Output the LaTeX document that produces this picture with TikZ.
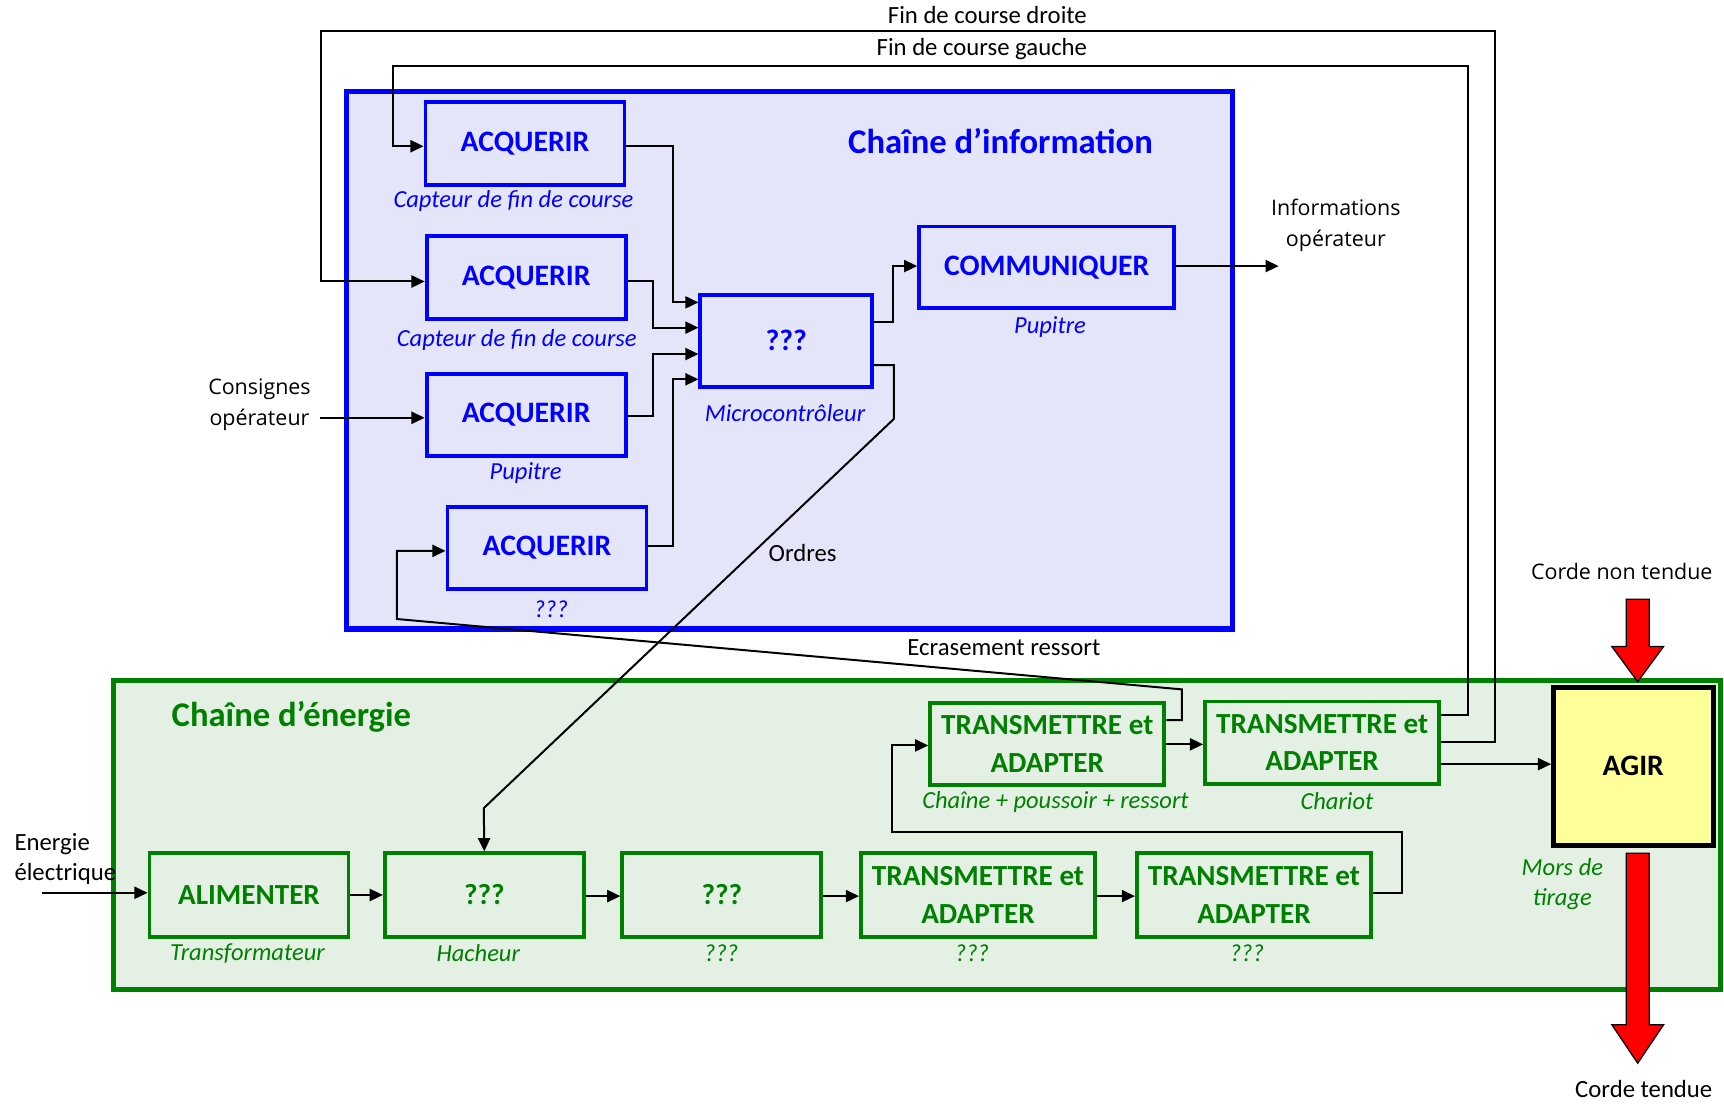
\documentclass[tikz,border=0pt]{standalone}
\usepackage{fontspec}
\setmainfont{Carlito}
\newfontfamily\osans{Open Sans}
\usetikzlibrary{arrows.meta,calc}
\definecolor{bl}{RGB}{0,0,255}
\definecolor{gr}{RGB}{0,128,0}
\definecolor{lav}{RGB}{229,229,250}
\definecolor{lgr}{RGB}{229,240,229}
\definecolor{yel}{RGB}{255,255,153}
\tikzset{
  bbox/.style={draw=bl,line width=3.5pt,fill=lav,text=bl,font=\fontsize{27}{30}\selectfont\bfseries,align=center,inner sep=0pt},
  gbox/.style={draw=gr,line width=3.5pt,fill=lgr,text=gr,font=\fontsize{26.5}{34}\selectfont\bfseries,align=center,inner sep=0pt},
  blab/.style={text=bl,font=\fontsize{22.3}{24}\selectfont\itshape,inner sep=0pt},
  glab/.style={text=gr,font=\fontsize{22.3}{28}\selectfont\itshape,inner sep=0pt,align=center},
  plain/.style={text=black,font=\fontsize{22.5}{24}\selectfont,inner sep=0pt},
  oplain/.style={text=black,font=\osans\fontsize{19.5}{28}\selectfont,inner sep=0pt,align=center},
  conn/.style={draw=black,line width=1.8pt,line join=miter},
  arr/.style={conn,-{Triangle[length=12pt,width=11pt]}},
  redarr/.style={fill=red,draw=black,line width=1.2pt,line join=miter}
}
\begin{document}
\begin{tikzpicture}[x=1pt,y=-1pt]
\useasboundingbox (0,0) rectangle (1568,1004);
% frames
\draw[draw=bl,line width=5pt,fill=lav] (315,83) rectangle (1121,572);
\node[text=bl,font=\fontsize{31.5}{34}\selectfont\bfseries,inner sep=0pt] (tinfo) at (910,128) {Chaîne d’information};
\draw[draw=gr,line width=5pt,fill=lgr] (103,619) rectangle (1565,900);
\node[text=gr,font=\fontsize{31.5}{34}\selectfont\bfseries,inner sep=0pt] (tener) at (265,652) {Chaîne d’énergie};

% information chain boxes
\node[bbox,minimum width=181,minimum height=75] (a1) at (477.5,130.5) {ACQUERIR};
\node[blab] (la1) at (467,183) {Capteur de fin de course};
\node[bbox,minimum width=181,minimum height=75] (a2) at (478.5,252.5) {ACQUERIR};
\node[blab] (la2) at (470,309) {Capteur de fin de course};
\node[bbox,minimum width=181,minimum height=75] (a3) at (478.5,377.5) {ACQUERIR};
\node[blab] (la3) at (478,430) {Pupitre};
\node[bbox,minimum width=181,minimum height=75] (a4) at (497.5,498.5) {ACQUERIR};
\node[blab] (la4) at (501,554) {???};
\node[bbox,minimum width=156,minimum height=84] (mc) at (715,310) {???};
\node[blab] (lmc) at (714,376) {Microcontrôleur};
\node[bbox,minimum width=232,minimum height=74] (com) at (952,243) {COMMUNIQUER};
\node[blab] (lcom) at (955,297) {Pupitre};

% energy chain boxes
\node[gbox,minimum width=181,minimum height=76] (alim) at (226.5,814) {ALIMENTER};
\node[glab] (lalim) at (225,867) {Transformateur};
\node[gbox,minimum width=181,minimum height=76] (h) at (440.5,814) {???};
\node[glab] (lh) at (435,867) {Hacheur};
\node[gbox,minimum width=181,minimum height=76] (q) at (656.5,814) {???};
\node[glab] (lq) at (656,867) {???};
\node[gbox,minimum width=213,minimum height=76] (t1) at (889.5,814) {TRANSMETTRE et\\ADAPTER};
\node[glab] (lt1) at (884,867) {???};
\node[gbox,minimum width=213,minimum height=76] (t2) at (1140.5,814) {TRANSMETTRE et\\ADAPTER};
\node[glab] (lt2) at (1134,867) {???};
\node[gbox,minimum width=213,minimum height=75] (t3) at (952.5,676.5) {TRANSMETTRE et\\ADAPTER};
\node[glab] (lt3) at (960,729) {Chaîne + poussoir + ressort};
\node[gbox,minimum width=213,minimum height=75] (t4) at (1202.5,675.5) {TRANSMETTRE et\\ADAPTER};
\node[glab] (lt4) at (1216,729) {Chariot};
\node[draw=black,line width=4.5pt,fill=yel,minimum width=145,minimum height=144,inner sep=0pt,font=\fontsize{27}{30}\selectfont\bfseries] (agir) at (1485.5,697) {AGIR};
\node[glab] (lagir) at (1421,804) {Mors de\\tirage};

% free texts
\node[plain] (fcd) at (898,14) {Fin de course droite};
\node[plain] (fcg) at (893,45) {Fin de course gauche};
\node[oplain] (infop) at (1215,205) {Informations\\opérateur};
\node[oplain] (cons) at (236,368) {Consignes\\opérateur};
\node[plain] (ordres) at (730,503) {Ordres};
\node[plain] (ecr) at (913,589) {Ecrasement ressort};
\node[oplain] (cnt) at (1475,520) {Corde non tendue};
\node[plain] (ct) at (1495,990) {Corde tendue};
\node[plain,align=left,anchor=west,font=\fontsize{22.5}{27}\selectfont] (en) at (13,781) {Energie\\électrique};

% free ends
\coordinate (io) at (1163,242);
\coordinate (cin) at (291,380);
\coordinate (ein) at (38,812);

% connectors
\draw[arr] (t4.east |- 0,675) -- (1360,675) -- (1360,28) -- (292,28) -- (292,256) -- (a2.west |- 0,256);
\draw[arr] (t4.east |- 0,650) -- (1335,650) -- (1335,60) -- (357,60) -- (357,133) -- (a1.west |- 0,133);
\draw[arr] (a1.east |- 0,133) -- (612,133) -- (612,275) -- (mc.west |- 0,275);
\draw[arr] (a2.east |- 0,256) -- (594,256) -- (594,298) -- (mc.west |- 0,298);
\draw[arr] (a3.east |- 0,378) -- (594,378) -- (594,322) -- (mc.west |- 0,322);
\draw[arr] (a4.east |- 0,497) -- (612,497) -- (612,345) -- (mc.west |- 0,345);
\draw[arr] (mc.east |- 0,293) -- (812,293) -- (812,242) -- (com.west |- 0,242);
\draw[arr] (com.east |- 0,242) -- (io);
\draw[arr] (cin) -- (a3.west |- 0,380);
\draw[arr] (mc.east |- 0,332) -- (813,332) -- (813,381) -- (440,735) -- (h.north);
\draw[arr] (t3.east |- 0,655) -- (1075,655) -- (1075,627) -- (361,563) -- (361,501) -- (a4.west |- 0,501);
\draw[arr] (t2.east |- 0,812) -- (1275,812) -- (1275,757) -- (811,757) -- (811,678) -- (t3.west |- 0,678);
\draw[arr] (t3.east |- 0,677) -- (t4.west |- 0,677);
\draw[arr] (t4.east |- 0,695) -- (agir.west |- 0,695);
\draw[arr] (ein) -- (alim.west |- 0,812);
\draw[arr] (alim.east |- 0,814) -- (h.west |- 0,814);
\draw[arr] (h.east |- 0,815) -- (q.west |- 0,815);
\draw[arr] (q.east |- 0,815) -- (t1.west |- 0,815);
\draw[arr] (t1.east |- 0,815) -- (t2.west |- 0,815);

% red arrows
\draw[redarr] (1479,545) -- (1500,545) -- (1500,588) -- (1513,588) -- (1489.5,620) -- (1466,588) -- (1479,588) -- cycle;
\draw[redarr] (1479,776) -- (1500,776) -- (1500,932) -- (1513,932) -- (1489.5,967) -- (1466,932) -- (1479,932) -- cycle;
\end{tikzpicture}
\end{document}
